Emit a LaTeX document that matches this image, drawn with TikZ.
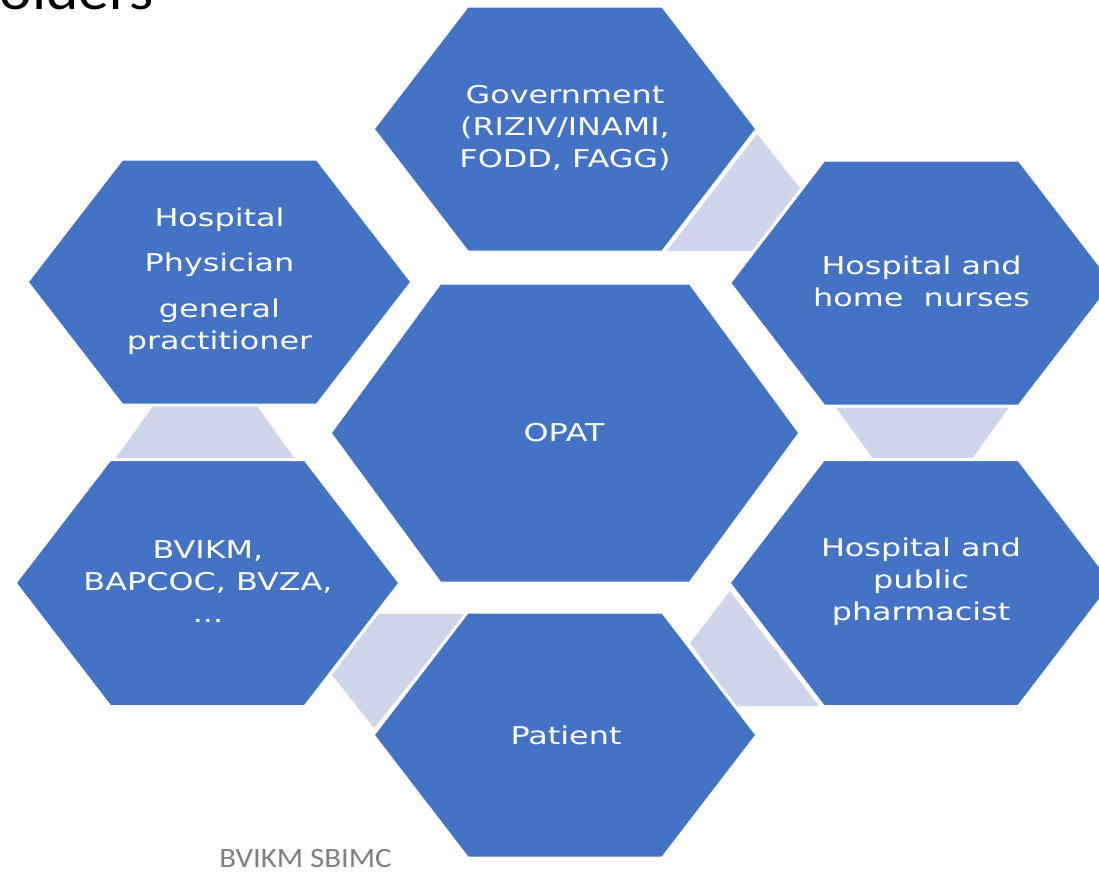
\documentclass[tikz,border=0pt]{standalone}
\usepackage{fontspec}
\newfontfamily\hexfont[FakeStretch=1.3]{DejaVu Sans}
\newfontfamily\footfont[FakeStretch=1.1]{Carlito}
\definecolor{hexblue}{HTML}{4472C4}
\definecolor{hexlight}{HTML}{CFD5EA}
\definecolor{footgray}{HTML}{7F7F7F}
\tikzset{
  hexbox/.style={fill=hexblue, draw=white, line width=3pt, line join=miter},
  linkshape/.style={fill=hexlight},
  hexlabel/.style={text=white, font=\hexfont\fontsize{24.5}{32}\selectfont, align=center, inner sep=0pt},
}
\newcommand\hexat[5]{\path[hexbox] ({#1-#3},#2) -- ({#1-#3+#5},{#2-#4}) -- ({#1+#3-#5},{#2-#4}) -- ({#1+#3},#2) -- ({#1+#3-#5},{#2+#4}) -- ({#1-#3+#5},{#2+#4}) -- cycle;}
\begin{document}
\begin{tikzpicture}[x=1pt,y=-1pt]
\useasboundingbox (0,0) rectangle (1099,873);
\clip (0,0) rectangle (1099,873);
% cut-off title at the top
\begin{scope}
\clip (0,0) rectangle (170,12);
\node[anchor=base east, inner sep=0pt, font=\footfont\fontsize{56}{60}\selectfont] (title) at (154,9) {Stakeholders};
\end{scope}
% light link shapes
\path[linkshape] (757,134) -- (800,188) -- (752,251) -- (667,251) -- cycle;
\path[linkshape] (835,406) -- (1010,406) -- (972,459) -- (873,459) -- cycle;
\path[linkshape] (153,406) -- (257,406) -- (295,459) -- (115,459) -- cycle;
\path[linkshape] (378,614) -- (466,614) -- (374,728) -- (332,675) -- cycle;
\path[linkshape] (730,591) -- (819,706) -- (735,706) -- (690,643) -- cycle;
% hexagons
\hexat{565}{129}{192}{123}{94.5}
\hexat{219.5}{282}{192.5}{123}{95}
\hexat{921.5}{283}{192}{123}{94.5}
\hexat{565}{433}{235}{150}{110}
\hexat{207.5}{583}{192.5}{123.5}{95}
\hexat{921}{583}{192}{123.5}{94.5}
\hexat{565}{735}{192}{123}{94.5}
% labels
\node[hexlabel] (gov) at (565,128) {Government\\(RIZIV/INAMI,\\FODD, FAGG)};
\node[hexlabel] (phys) at (219.5,281) {Hospital\\[13pt]Physician\\[14pt]general\\practitioner};
\node[hexlabel] (nurse) at (921.5,281) {Hospital and\\home~~nurses};
\node[hexlabel] (opat) at (564,433) {OPAT};
\node[hexlabel] (bvikm) at (208,582) {BVIKM,\\BAPCOC, BVZA,\\...};
\node[hexlabel] (pharm) at (921,582) {Hospital and\\public\\pharmacist};
\node[hexlabel] (patient) at (566,735) {Patient};
\node[font=\footfont\fontsize{28}{30}\selectfont, text=footgray, inner sep=0pt] (foot) at (305.5,858) {BVIKM SBIMC};
\end{tikzpicture}
\end{document}
